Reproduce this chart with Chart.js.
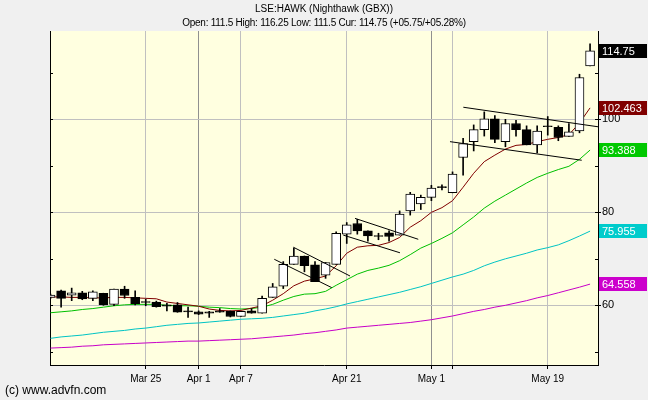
<!DOCTYPE html>
<html><head><meta charset="utf-8">
<script src="https://cdn.jsdelivr.net/npm/chart.js@4/dist/chart.umd.min.js"></script>
<style>html,body{margin:0;padding:0;background:#f0f0f0;overflow:hidden}#wrap{width:648px;height:400px;position:relative}</style>
</head><body><div id="wrap"><canvas id="c" width="648" height="400"></canvas></div>
<script>
const titleText = 'LSE:HAWK (Nighthawk (GBX))';
const quoteText = 'Open: 111.5 High: 116.25 Low: 111.5 Cur: 114.75 (+05.75/+05.28%)';
const footerText = '(c) www.advfn.com';
const dates = ['Mar 10','Mar 11','Mar 12','Mar 13','Mar 14','Mar 17','Mar 18','Mar 19','Mar 20','Mar 25','Mar 26','Mar 27','Mar 28','Mar 31',
 'Apr 1','Apr 2','Apr 3','Apr 4','Apr 7','Apr 8','Apr 9','Apr 10','Apr 11','Apr 14','Apr 15','Apr 16','Apr 17','Apr 18','Apr 21','Apr 22','Apr 23','Apr 24','Apr 25','Apr 28','Apr 29','Apr 30',
 'May 1','May 2','May 6','May 7','May 8','May 9','May 12','May 13','May 14','May 15','May 16','May 19','May 20','May 21','May 22','May 23'];
const opens  = [61.7,63.1,62.2,62.7,61.5,62.6,60.2,63.5,61.7,60.6,60.7,60.1,60.1,58.6,58.6,58.6,58.8,58.7,57.6,58.8,58.3,61.7,64.1,68.8,70.6,68.7,66.5,68.8,75.3,77.6,76.0,74.8,75.6,75.1,80.3,81.8,83.2,85.3,84.2,91.8,95.2,97.8,100.1,95.2,99.1,97.8,94.5,98.4,98.3,96.3,97.5,111.5];
const highs  = [62.4,63.3,63.7,63.0,63.1,62.6,63.5,64.1,63.1,61.3,60.9,60.4,60.6,59.6,58.8,58.7,59.3,58.8,58.7,59.3,62.0,64.7,69.4,72.3,70.6,69.4,69.2,75.8,77.8,78.5,76.0,75.5,76.0,80.3,84.3,83.7,85.8,85.9,88.7,95.9,98.8,101.6,100.8,100.0,99.8,98.6,98.6,100.6,98.6,99.1,109.7,116.25];
const lows   = [61.5,59.6,61.0,61.2,61.0,60.0,59.9,61.5,60.1,59.9,59.6,58.8,58.5,57.4,58.0,57.4,58.5,57.5,57.6,58.3,58.3,61.7,63.6,68.8,67.2,65.1,65.8,68.8,73.3,75.3,73.8,74.1,73.8,75.1,79.4,80.6,82.5,84.8,84.2,88.0,93.2,96.4,95.0,94.1,96.4,94.5,92.8,96.6,95.4,96.3,97.1,111.5];
const closes = [62.2,61.5,62.7,61.4,62.9,60.1,63.5,62.1,60.3,60.6,59.7,59.8,58.5,58.6,58.1,58.3,58.5,57.6,58.7,58.3,61.5,64.0,68.8,70.6,68.5,65.1,69.2,75.5,77.3,76.0,74.9,74.8,74.8,79.6,83.9,83.2,85.2,85.3,88.2,94.8,97.8,100.1,95.7,99.1,97.8,94.5,97.5,98.4,96.1,97.3,109.0,114.75];
const maRed     = [61.8,61.8,61.7,61.7,61.6,61.6,61.7,61.7,61.6,61.5,61.4,60.7,60.4,60.1,59.8,59.2,58.9,58.8,58.9,59.4,59.9,61.1,62.5,64.2,65.2,65.7,66.3,68.5,71.2,72.5,72.8,72.9,73.5,74.6,76.8,78.2,80.0,81.0,82.5,85.4,88.4,90.9,92.3,93.6,94.4,94.6,95.2,95.7,96.1,96.7,99.2,102.463];
const maGreen   = [58.4,58.6,58.8,59.1,59.3,59.6,59.9,60.1,60.2,60.2,60.2,60.0,59.9,59.9,59.8,59.6,59.5,59.3,59.2,59.3,59.6,60.2,61.1,61.9,62.4,62.5,63.0,64.3,65.5,66.7,67.5,68.0,68.6,69.6,70.9,72.3,73.3,74.4,75.6,77.3,79.0,80.9,82.4,83.7,85.0,86.3,87.5,88.4,89.2,89.9,91.4,93.388];
const maCyan    = [52.9,53.2,53.4,53.6,53.9,54.2,54.4,54.6,54.9,55.1,55.4,55.7,55.9,56.1,56.2,56.4,56.6,56.8,57.0,57.1,57.2,57.4,57.7,58.0,58.3,58.8,59.2,59.7,60.3,60.8,61.3,61.8,62.3,62.8,63.4,64.0,64.7,65.4,66.1,66.7,67.5,68.5,69.3,70.0,70.6,71.2,71.9,72.4,73.0,73.9,74.9,75.955];
const maMagenta = [50.8,50.9,51.0,51.2,51.3,51.5,51.6,51.7,51.8,51.9,52.0,52.1,52.2,52.3,52.3,52.4,52.5,52.6,52.7,52.8,53.0,53.2,53.4,53.6,53.9,54.1,54.4,54.7,55.1,55.3,55.5,55.7,55.9,56.1,56.3,56.6,56.9,57.3,57.7,58.2,58.7,59.1,59.6,60.0,60.5,61.0,61.6,62.1,62.7,63.3,63.9,64.558];
const maLabels = ['102.463','93.388','75.955','64.558'];
const lastLabel = '114.75';
const tickDates = ['Mar 25','Apr 1','Apr 7','Apr 21','May 1','May 6','May 19'];
const unlabelledDates = ['May 6'];
const monthStartDates = ['Apr 1','May 1'];
const yTickValues = [50,60,70,80,90,100,110];
const yLabelledValues = [60,80,100];
const trendStartX = [21.15,22.95,28.78,27.67,39.02,37.76];
const trendStartY = [69.9,72.5,78.7,75.1,102.6,95.2];
const trendEndX   = [26.58,28.31,34.76,33.03,51.75,50.21];
const trendEndY   = [63.8,66.3,74.2,71.3,98.4,91.2];

const FONT = '"Liberation Sans", Arial, sans-serif';
const COLORS = {red:'#800000', green:'#00c000', cyan:'#00c4c4', magenta:'#c800c8'};
const BOX = {red:'#800000', green:'#00c800', cyan:'#00cccc', magenta:'#cc00cc'};
const Y_MIN = 47.16, Y_MAX = 119.0;

const tickIdx = tickDates.map(d => dates.indexOf(d));
const idx = dates.map((d,i)=>i);
const bodies = idx.map(i => ({x:i, y:[opens[i], closes[i]]}));
const wicks = idx.map(i => ({x:i, y:[lows[i], highs[i]]}));
const bodyColors = idx.map(i => closes[i] > opens[i] ? '#ffffff' : '#000000');
const maDs = (arr, col) => ({type:'line', data: idx.map(i=>({x:i,y:arr[i]})), borderColor: col, borderWidth: 1,
  pointRadius: 0, tension: 0, order: 3, clip: 0, yAxisID:'y'});
const trendDs = trendStartX.map((sx,k)=>({type:'line', data:[{x:sx,y:trendStartY[k]},{x:trendEndX[k],y:trendEndY[k]}],
  borderColor:'#000', borderWidth:1, pointRadius:0, order:0, clip:0, yAxisID:'y'}));

const framePlugin = {
  id:'frame',
  beforeDraw(chart){
    const {ctx, chartArea:a} = chart;
    ctx.save();
    ctx.fillStyle = '#f0f0f0'; ctx.fillRect(0,0,chart.width,chart.height);
    ctx.fillStyle = '#ffffe0'; ctx.fillRect(a.left, a.top, a.right-a.left, a.bottom-a.top);
    ctx.restore();
  },
  afterDraw(chart){
    const {ctx, chartArea:a} = chart; const y = chart.scales.y;
    ctx.save();
    // inward minor ticks on both vertical axes
    ctx.strokeStyle = '#000'; ctx.lineWidth = 1;
    yTickValues.forEach(v => {
      const py = Math.round(y.getPixelForValue(v)) + 0.5;
      ctx.beginPath(); ctx.moveTo(a.left, py); ctx.lineTo(a.left + 3, py);
      ctx.moveTo(a.right - 3, py); ctx.lineTo(a.right, py); ctx.stroke();
    });
    ctx.fillStyle = '#000'; ctx.textBaseline = 'middle';
    ctx.textAlign = 'center';
    ctx.font = '10px ' + FONT;
    ctx.fillText(titleText, 324, 9);
    ctx.letterSpacing = '-0.25px';
    ctx.fillText(quoteText, 324, 23);
    ctx.letterSpacing = '0px';
    ctx.textAlign = 'left';
    ctx.font = '12px ' + FONT;
    ctx.fillText(footerText, 5, 391);
    const boxes = [[closes[closes.length-1], lastLabel, '#000000'],
      [maRed[maRed.length-1], maLabels[0], BOX.red],
      [maGreen[maGreen.length-1], maLabels[1], BOX.green],
      [maCyan[maCyan.length-1], maLabels[2], BOX.cyan],
      [maMagenta[maMagenta.length-1], maLabels[3], BOX.magenta]];
    const left = a.right + 1;
    ctx.font = '11px ' + FONT;
    boxes.forEach(([v, t, c]) => {
      const py = Math.round(y.getPixelForValue(v));
      ctx.fillStyle = c; ctx.fillRect(left, py-7, 48, 14);
      ctx.fillStyle = '#fff';
      ctx.fillText(t, left + 3, py + 0.5);
    });
    ctx.restore();
  }
};

new Chart(document.getElementById('c'), {
  type: 'line',
  data: { datasets: [
    ...trendDs,
    {type:'bar', data: bodies, backgroundColor: bodyColors, borderColor:'#000', borderWidth:1, borderSkipped:false,
      barThickness: 9, grouped:false, minBarLength:1, order:1, clip:0, yAxisID:'y'},
    {type:'bar', data: wicks, backgroundColor:'#000', borderWidth:0, barThickness:1, grouped:false, order:2, clip:0, yAxisID:'y'},
    maDs(maRed, COLORS.red), maDs(maGreen, COLORS.green), maDs(maCyan, COLORS.cyan), maDs(maMagenta, COLORS.magenta)
  ]},
  options: {
    responsive:false, animation:false, devicePixelRatio:1,
    layout:{padding:{top:31, left:0, right:0, bottom:0}},
    plugins:{legend:{display:false}, tooltip:{enabled:false}, title:{display:false}},
    scales:{
      x:{type:'linear', min:-0.05, max:51.75, offset:false,
        afterBuildTicks: s => { s.ticks = tickIdx.map(v=>({value:v})); },
        afterFit: s => { s.height = 35; },
        ticks:{autoSkip:false, maxRotation:0, color:'#000', font:{family:FONT, size:10}, padding:4,
          callback: v => { const d = dates[Math.round(v)]; return unlabelledDates.includes(d) ? '' : d; }},
        grid:{offset:false, color: c => { if(!c.tick) return '#c0c0c0'; const d = dates[Math.round(c.tick.value)]; return monthStartDates.includes(d) ? '#909090' : '#c0c0c0'; },
          lineWidth:1, tickColor:'#000', tickLength:4},
        border:{color:'#000', width:1}
      },
      y:{type:'linear', position:'right', min:Y_MIN, max:Y_MAX, beginAtZero:false,
        afterBuildTicks: s => { s.ticks = yTickValues.map(v=>({value:v})); },
        afterFit: s => { s.width = 50; },
        ticks:{color:'#000', font:{family:FONT, size:11}, padding:1,
          callback: v => yLabelledValues.includes(v) ? String(v) : ''},
        grid:{color: c => (c.tick && yLabelledValues.includes(c.tick.value)) ? '#c0c0c0' : 'rgba(0,0,0,0)',
          tickColor: c => (c.tick && yLabelledValues.includes(c.tick.value)) ? '#000' : 'rgba(0,0,0,0)', tickLength:3},
        border:{color:'#000', width:1}
      },
      yL:{type:'linear', position:'left', min:Y_MIN, max:Y_MAX,
        afterFit: s => { s.width = 50; },
        ticks:{display:false},
        grid:{display:false},
        border:{color:'#000', width:1}
      }
    }
  },
  plugins:[framePlugin]
});
</script></body></html>
